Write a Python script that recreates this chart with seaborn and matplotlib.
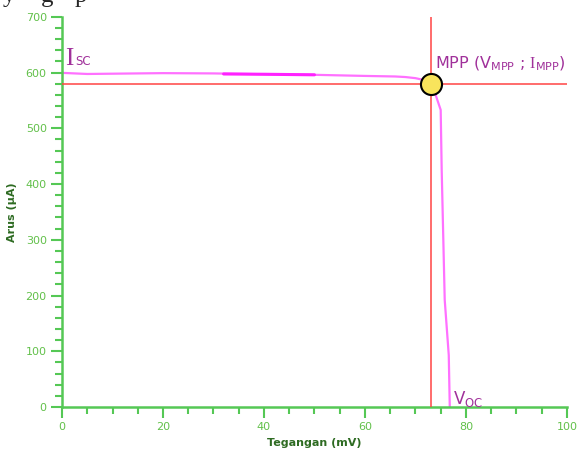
import seaborn as sns
import matplotlib.pyplot as plt
import pandas as pd
from matplotlib.ticker import MultipleLocator

# I-V curve
tegangan = [0, 5, 10, 20, 30, 40, 50, 60, 66, 68, 70, 71.5, 73, 74, 75, 75.2, 75.8, 76.6, 76.8]
arus = [599.5, 597.5, 598, 599, 598.5, 597, 596, 594, 593, 592, 590, 587, 580, 560, 533, 425, 192, 93, 0]

# short darker overlap segment on the flat part
seg_x = [32, 40, 45, 50]
seg_y = [597.5, 597, 596.5, 596]

v_mpp = 73
i_mpp = 580

green = "#55c855"
label_green = "#62c04a"
purple = "#a0309a"

sns.set_style("white")
plt.rcParams['font.family'] = ['DejaVu Sans']
plt.rcParams['mathtext.fontset'] = 'custom'
plt.rcParams['mathtext.rm'] = 'Liberation Serif'

fig = plt.figure(figsize=(5.77, 4.59), dpi=100)
ax = fig.add_axes([0.1075, 0.1133, 0.875, 0.85])

df = pd.DataFrame({"Tegangan": tegangan, "Arus": arus})
sns.lineplot(data=df, x="Tegangan", y="Arus", ax=ax, color="#ff70ff",
             linewidth=1.6, estimator=None, sort=False)
sns.lineplot(x=seg_x, y=seg_y, ax=ax, color="#ff22ff", linewidth=2.2,
             estimator=None, sort=False)

ax.axvline(v_mpp, color="#ff4444", linewidth=1.1, zorder=3)
ax.axhline(i_mpp, color="#ff4444", linewidth=1.1, zorder=3)
ax.scatter([v_mpp], [i_mpp], s=230, color="#f8e45c", edgecolor="black",
           linewidth=1.5, zorder=5)

ax.set_xlim(0, 100)
ax.set_ylim(0, 700)
ax.xaxis.set_major_locator(MultipleLocator(20))
ax.xaxis.set_minor_locator(MultipleLocator(5))
ax.yaxis.set_major_locator(MultipleLocator(100))
ax.yaxis.set_minor_locator(MultipleLocator(20))
ax.tick_params(which="major", direction="out", length=8, width=1.5,
               color=green, labelcolor=label_green, labelsize=8,
               bottom=True, left=True, pad=3)
ax.tick_params(which="minor", direction="out", length=5, width=1.5,
               color=green, bottom=True, left=True)

for s in ["top", "right"]:
    ax.spines[s].set_visible(False)
for s in ["left", "bottom"]:
    ax.spines[s].set_color(green)
    ax.spines[s].set_linewidth(1.8)

ax.set_xlabel("Tegangan (mV)", fontsize=8, fontweight="bold", color="#2e6b22", labelpad=4)
ax.set_ylabel("Arus (µA)", fontsize=8, fontweight="bold", color="#2e6b22", labelpad=6)

# annotations
ax.text(0.7, 613, "I", fontsize=18, color=purple, family="Liberation Serif", va="baseline")
ax.text(2.6, 613, "SC", fontsize=8.5, color=purple, va="baseline")
ax.text(73.8, 608, r"MPP (V$_{\mathregular{MPP}}$ ; $\mathrm{I}_{\mathregular{MPP}}$)",
        fontsize=11.5, color=purple, va="baseline")
ax.text(77.4, 5, r"V$_{\mathregular{OC}}$", fontsize=12, color=purple, va="baseline")

# clipped line of document text above the chart
fig.text(0.005, 1 - 2 / 459, "y", fontsize=18, family="Liberation Serif", va="baseline")
fig.text(0.07, 1 - 2 / 459, "g", fontsize=18, family="Liberation Serif", va="baseline")
fig.text(0.13, 1 - 2 / 459, "p", fontsize=18, family="Liberation Serif", va="baseline")

fig.savefig("out.png", dpi=100)
